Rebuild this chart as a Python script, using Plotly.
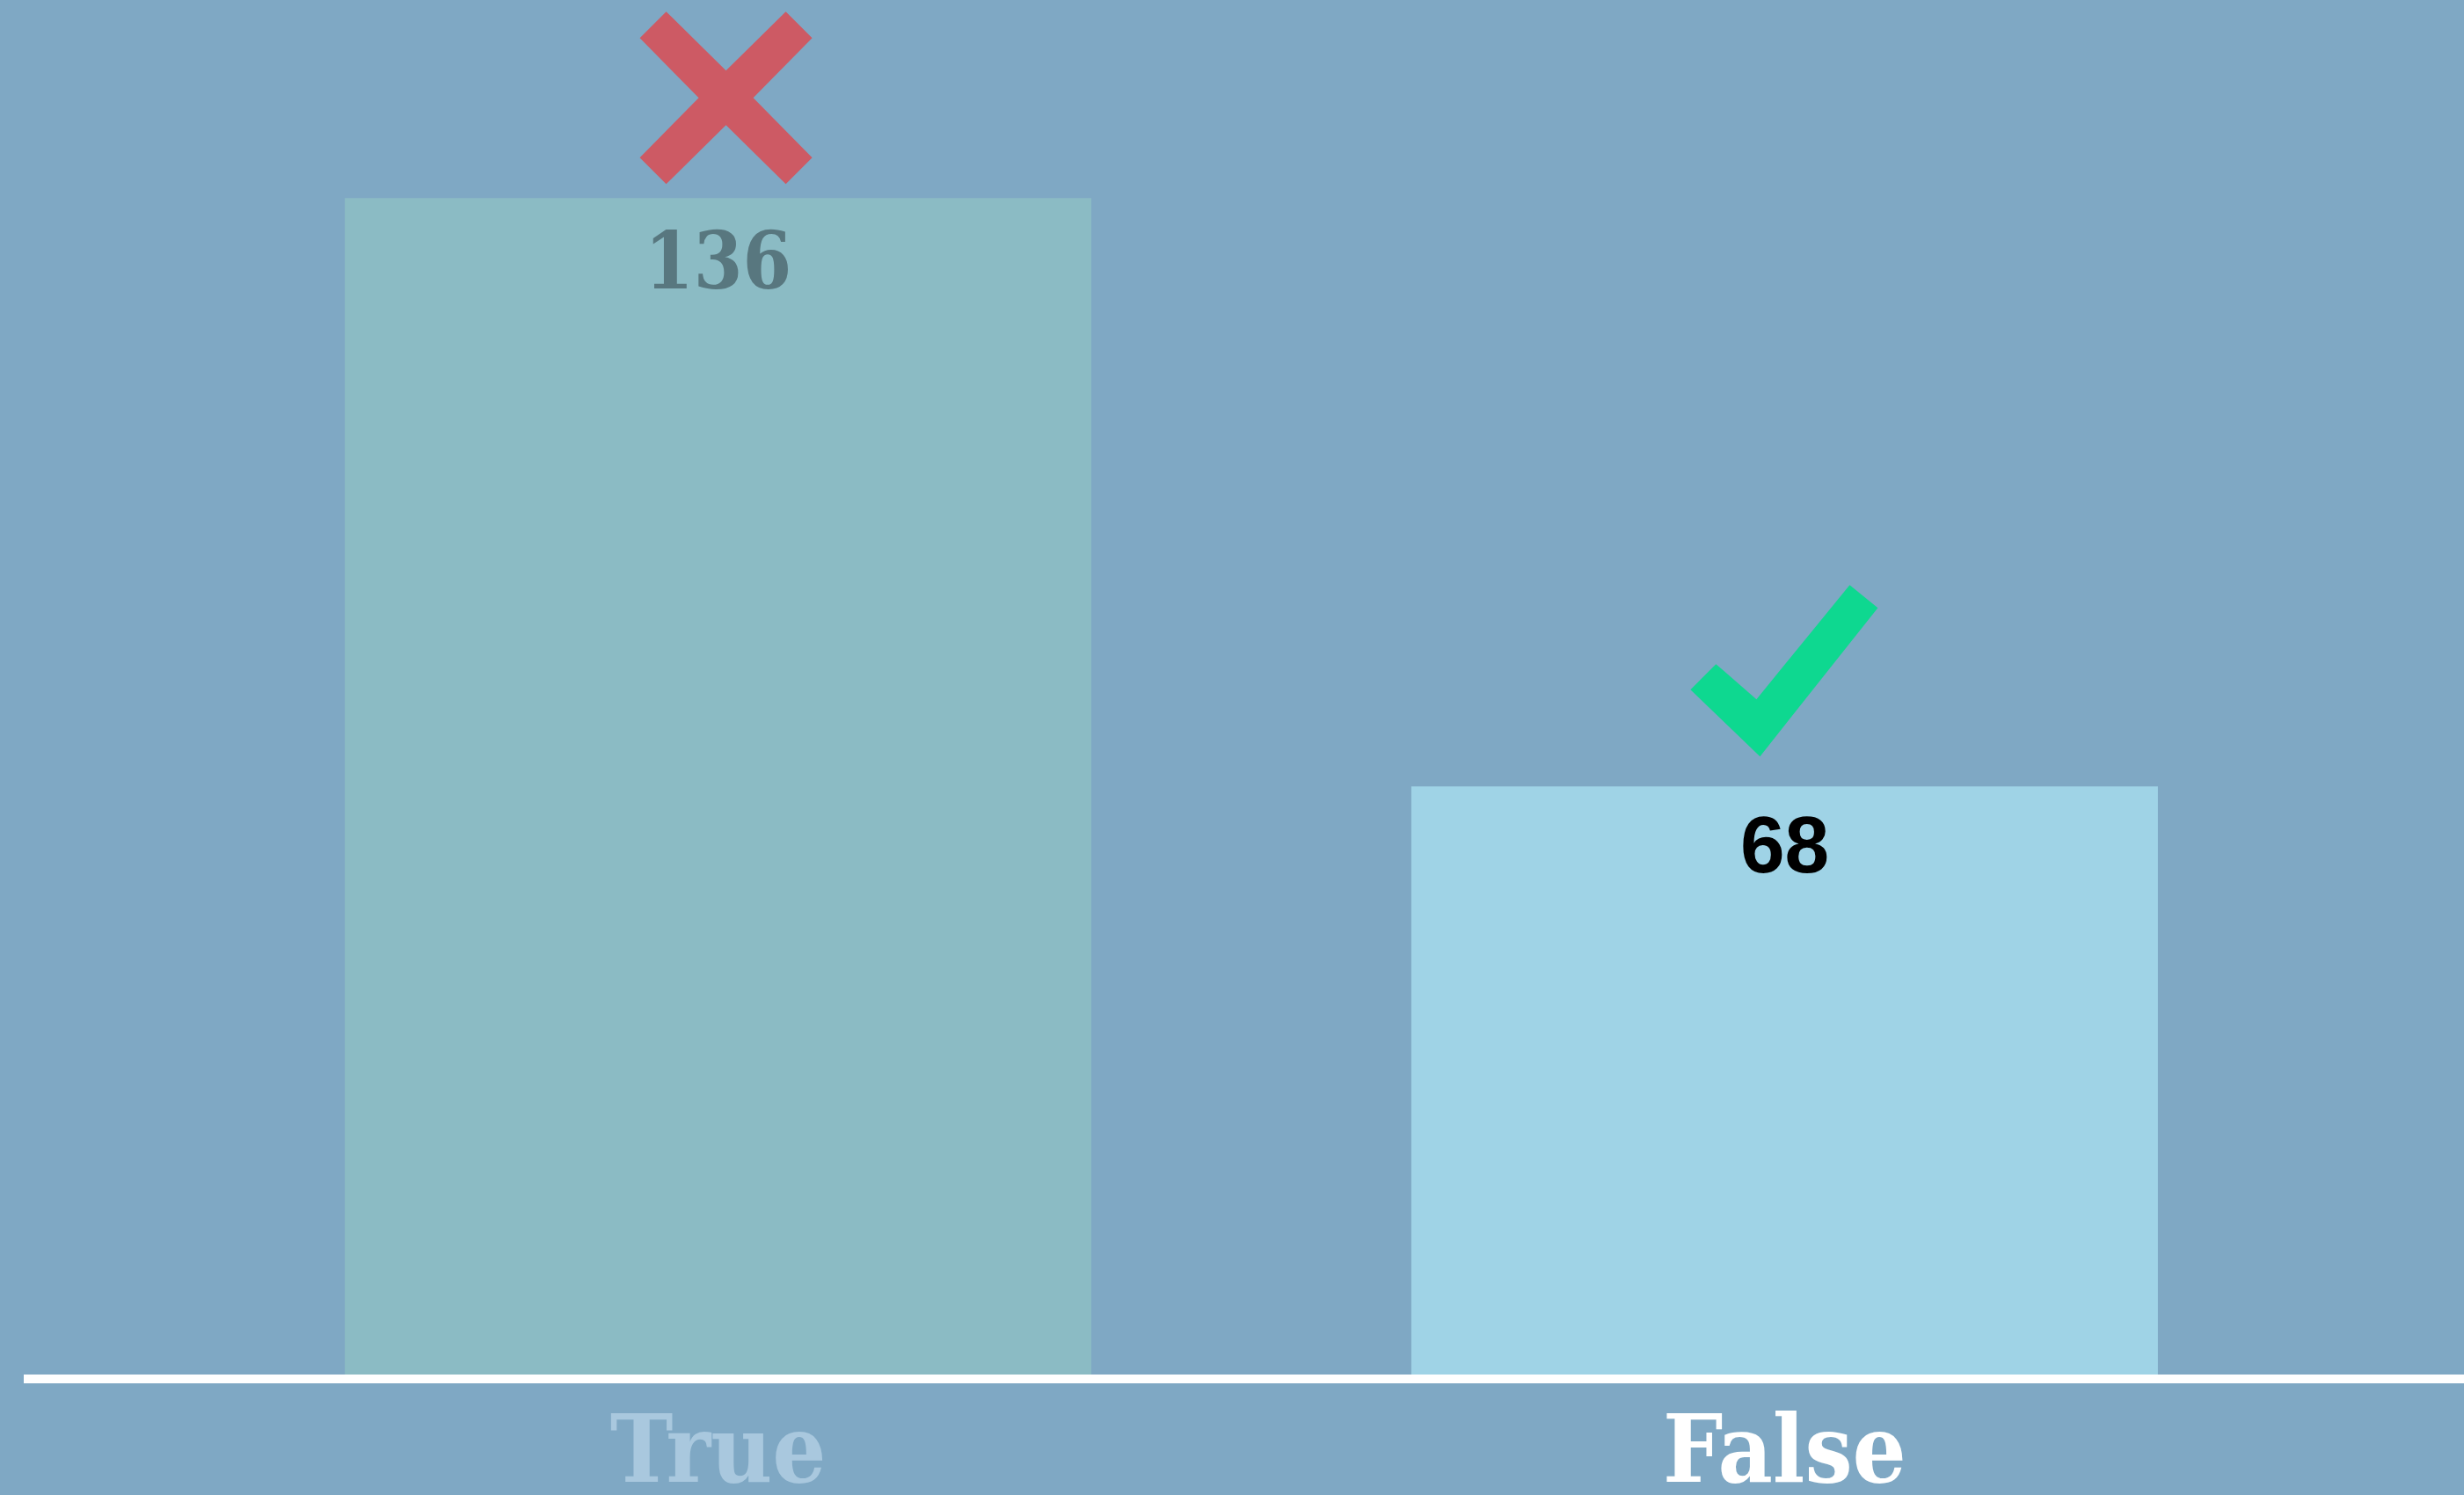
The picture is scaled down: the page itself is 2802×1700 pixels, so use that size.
import plotly.graph_objects as go

# data
answers = ["True", "False"]
counts = [136, 68]
bar_colors = ["#8BBBC4", "#9FD3E6"]
label_colors = ["#58777F", "#000000"]
label_fonts = ["DejaVu Serif Condensed, Liberation Serif", "Liberation Sans"]
label_sizes = [89, 91]
label_shift = [-17, -14]
tick_colors = ["#A9C8DE", "#FFFFFF"]
verdicts = ["wrong", "right"]

W, H = 2802, 1700
BG = "#7FA8C4"

# icon outlines in pixels around the bar top (x right, y up)
icons = {
    "wrong": dict(color="#CD5A64", pts=[(0, 31), (68, 98), (98, 68), (31, 0), (98, -68), (68, -98),
                                        (0, -31), (-68, -98), (-98, -68), (-31, 0), (-98, 68), (-68, 98)],
                  dx=9, lift=114),
    "right": dict(color="#0ED890", pts=[(-107, 110), (-78, 139), (-32, 99), (74, 229), (106, 203), (-28, 34)],
                  dx=0, lift=0),
}


def icon_path(pts, dx, lift):
    return "M" + "L".join("{},{}".format(x + dx, y + lift) for x, y in pts) + "Z"


fig = go.Figure()
fig.add_trace(go.Bar(
    x=answers,
    y=counts,
    width=0.7,
    marker=dict(color=bar_colors, line=dict(width=0)),
    hoverinfo="skip",
))

for cat, val, verdict in zip(answers, counts, verdicts):
    ic = icons[verdict]
    fig.add_shape(
        type="path",
        xref="x", yref="y",
        xsizemode="pixel", ysizemode="pixel",
        xanchor=cat, yanchor=val,
        path=icon_path(ic["pts"], ic["dx"], ic["lift"]),
        fillcolor=ic["color"],
        line=dict(width=0),
        layer="above",
    )

# value labels just under the top of each bar
for cat, val, fam, size, col, shift in zip(answers, counts, label_fonts, label_sizes, label_colors, label_shift):
    fig.add_annotation(
        x=cat, y=val, text=str(val),
        xanchor="center", yanchor="top", yshift=shift,
        showarrow=False,
        font=dict(family=fam, size=size, color=col, weight="bold"),
    )

fig.update_layout(
    width=W,
    height=H,
    autosize=False,
    margin=dict(l=27, r=0, t=0, b=137, autoexpand=False),
    paper_bgcolor=BG,
    plot_bgcolor=BG,
    showlegend=False,
)
fig.update_xaxes(
    type="category",
    range=[-0.651, 1.637],
    tickvals=answers,
    ticktext=['<span style="color:{}">{}</span>'.format(c, a) for a, c in zip(answers, tick_colors)],
    tickfont=dict(family="DejaVu Serif Condensed, Liberation Serif", size=107, weight="bold", color="#FFFFFF"),
    showline=True,
    linecolor="#FFFFFF",
    linewidth=10,
    showgrid=False,
    zeroline=False,
    ticks="",
    automargin=False,
    ticklabelstandoff=-16,
)
fig.update_yaxes(
    range=[0, 158.9],
    visible=False,
    showgrid=False,
    zeroline=False,
    automargin=False,
)

fig.write_html("out.html", config={"displayModeBar": False, "displaylogo": False},
               post_script="document.body.style.margin='0';")
